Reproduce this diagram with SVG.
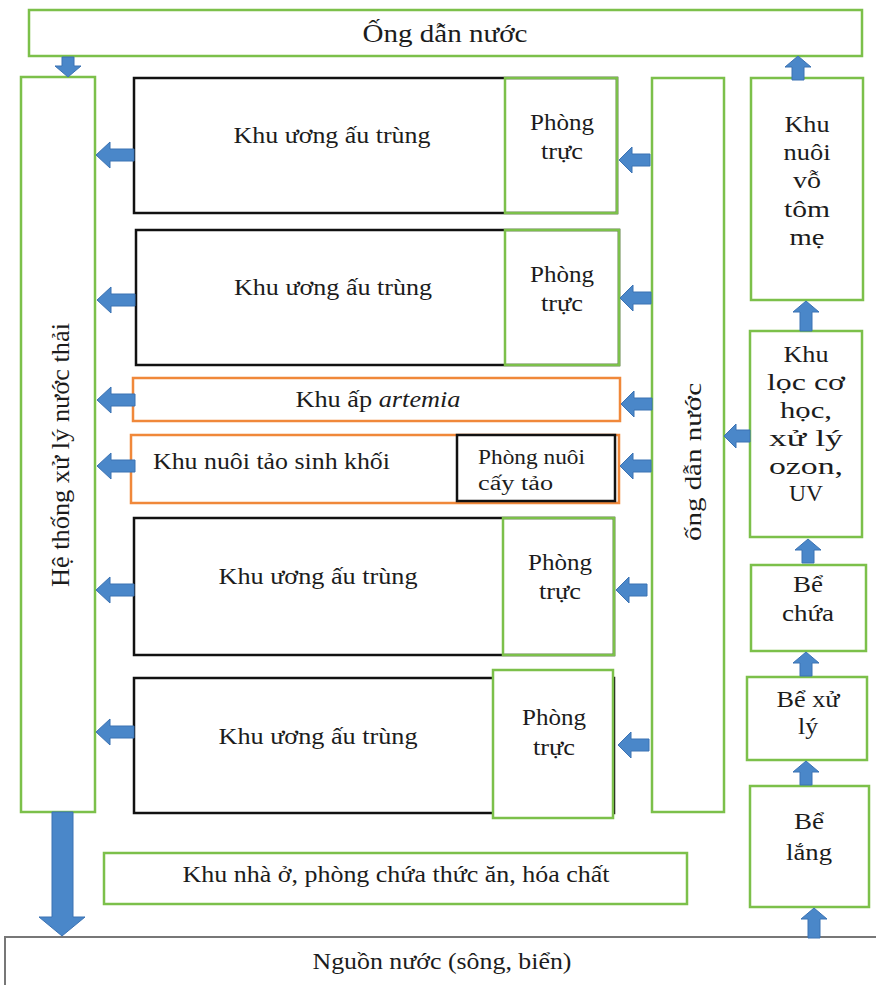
<svg xmlns="http://www.w3.org/2000/svg" width="876" height="985" viewBox="0 0 876 985">
<style>
text{font-family:"Liberation Serif","Times New Roman",serif;fill:#1c1c1c;font-size:23px}
.c{text-anchor:middle}
.g{fill:#fff;stroke:#7cc04a;stroke-width:2.5}
.k{fill:#fff;stroke:#111;stroke-width:2.5}
.o{fill:#fff;stroke:#f0883a;stroke-width:2.5}
.gy{fill:#fff;stroke:#777;stroke-width:2}
.gi{fill:none;stroke:#7cc04a;stroke-width:2.5}
.a{fill:#4a87c9;stroke:#3b72b3;stroke-width:1}
</style>
<defs>
<path id="aL38" d="M0,0 L14,-13 L14,-6 L38,-6 L38,6 L14,6 L14,13 Z"/>
<path id="aL31" d="M0,0 L13,-13 L13,-6 L31,-6 L31,6 L13,6 L13,13 Z"/>
<path id="aL26" d="M0,0 L12,-12 L12,-6 L26,-6 L26,6 L12,6 L12,12 Z"/>
<path id="aU" d="M0,0 L13,11 L6,11 L6,24 L-6,24 L-6,11 L-13,11 Z"/>
<path id="aU30" d="M0,0 L13,11 L6,11 L6,30 L-6,30 L-6,11 L-13,11 Z"/>
<path id="aD" d="M0,0 L-13,-11 L-6,-11 L-6,-20 L6,-20 L6,-11 L13,-11 Z"/>
</defs>

<g id="top-pipe"><rect class="g" x="29" y="10" width="833" height="46"/><text class="c" x="445" y="42" textLength="165" lengthAdjust="spacingAndGlyphs" style="font-size:25px">Ống dẫn nước</text></g>

<g id="waste-system"><rect class="g" x="21" y="77" width="74" height="735"/><text class="c" transform="translate(69,455) rotate(-90)" textLength="264" lengthAdjust="spacingAndGlyphs" style="font-size:25px">Hệ thống xử lý nước thải</text></g>

<g id="row1"><rect class="k" x="134" y="78" width="483" height="135"/><rect class="gi" x="505" y="78" width="112" height="135"/><text class="c" x="332" y="143" textLength="197" lengthAdjust="spacingAndGlyphs">Khu ương ấu trùng</text><text class="c" x="562" y="130" textLength="64" lengthAdjust="spacingAndGlyphs">Phòng</text><text class="c" x="562" y="159" textLength="42" lengthAdjust="spacingAndGlyphs">trực</text></g>

<g id="row2"><rect class="k" x="136" y="230" width="483" height="135"/><rect class="gi" x="505" y="230" width="114" height="135"/><text class="c" x="333" y="295" textLength="198" lengthAdjust="spacingAndGlyphs">Khu ương ấu trùng</text><text class="c" x="562" y="282" textLength="64" lengthAdjust="spacingAndGlyphs">Phòng</text><text class="c" x="562" y="311" textLength="42" lengthAdjust="spacingAndGlyphs">trực</text></g>

<g id="artemia"><rect class="o" x="133" y="378" width="487" height="43"/><text class="c" x="378" y="407" textLength="165" lengthAdjust="spacingAndGlyphs">Khu ấp <tspan font-style="italic">artemia</tspan></text></g>

<g id="algae"><rect class="o" x="131" y="435" width="488" height="68"/><rect class="k" x="457" y="435" width="158" height="66"/><text x="153" y="469" textLength="237" lengthAdjust="spacingAndGlyphs">Khu nuôi tảo sinh khối</text><text x="478" y="464" textLength="107" lengthAdjust="spacingAndGlyphs" style="font-size:20px">Phòng nuôi</text><text x="478" y="490" textLength="75" lengthAdjust="spacingAndGlyphs" style="font-size:20px">cấy tảo</text></g>

<g id="row5"><rect class="k" x="134" y="518" width="480" height="137"/><rect class="gi" x="503" y="518" width="111" height="137"/><text class="c" x="318" y="584" textLength="199" lengthAdjust="spacingAndGlyphs">Khu ương ấu trùng</text><text class="c" x="560" y="570" textLength="64" lengthAdjust="spacingAndGlyphs">Phòng</text><text class="c" x="560" y="599" textLength="42" lengthAdjust="spacingAndGlyphs">trực</text></g>

<g id="row6"><rect class="k" x="134" y="678" width="480" height="135"/><rect class="g" x="493" y="670" width="120" height="148"/><text class="c" x="318" y="744" textLength="199" lengthAdjust="spacingAndGlyphs">Khu ương ấu trùng</text><text class="c" x="554" y="725" textLength="64" lengthAdjust="spacingAndGlyphs">Phòng</text><text class="c" x="554" y="755" textLength="42" lengthAdjust="spacingAndGlyphs">trực</text></g>

<g id="pipe-right"><rect class="g" x="652" y="78" width="72" height="734"/><text class="c" transform="translate(701,462) rotate(-90)" textLength="158" lengthAdjust="spacingAndGlyphs" style="font-size:24px">ống dẫn nước</text></g>

<g id="broodstock"><rect class="g" x="751" y="78" width="112" height="222"/><text class="c" x="807" y="132" textLength="45" lengthAdjust="spacingAndGlyphs">Khu</text><text class="c" x="807" y="160" textLength="47" lengthAdjust="spacingAndGlyphs">nuôi</text><text class="c" x="807" y="188" textLength="28" lengthAdjust="spacingAndGlyphs">vỗ</text><text class="c" x="807" y="217" textLength="46" lengthAdjust="spacingAndGlyphs">tôm</text><text class="c" x="807" y="245" textLength="35" lengthAdjust="spacingAndGlyphs">mẹ</text></g>

<g id="filter"><rect class="g" x="750" y="331" width="112" height="206"/><text class="c" x="806" y="362" textLength="45" lengthAdjust="spacingAndGlyphs">Khu</text><text class="c" x="806" y="390" textLength="78" lengthAdjust="spacingAndGlyphs">lọc cơ</text><text class="c" x="806" y="418" textLength="52" lengthAdjust="spacingAndGlyphs">học,</text><text class="c" x="806" y="446" textLength="74" lengthAdjust="spacingAndGlyphs">xử lý</text><text class="c" x="806" y="474" textLength="74" lengthAdjust="spacingAndGlyphs">ozon,</text><text class="c" x="806" y="501" textLength="34" lengthAdjust="spacingAndGlyphs">UV</text></g>

<g id="storage"><rect class="g" x="751" y="565" width="115" height="86"/><text class="c" x="808" y="592" textLength="30" lengthAdjust="spacingAndGlyphs">Bể</text><text class="c" x="808" y="621" textLength="52" lengthAdjust="spacingAndGlyphs">chứa</text></g>

<g id="treatment"><rect class="g" x="747" y="677" width="120" height="83"/><text class="c" x="808" y="707" textLength="63" lengthAdjust="spacingAndGlyphs">Bể xử</text><text class="c" x="808" y="734" textLength="20" lengthAdjust="spacingAndGlyphs">lý</text></g>

<g id="settling"><rect class="g" x="750" y="786" width="119" height="121"/><text class="c" x="809" y="829" textLength="30" lengthAdjust="spacingAndGlyphs">Bể</text><text class="c" x="809" y="860" textLength="46" lengthAdjust="spacingAndGlyphs">lắng</text></g>

<g id="housing"><rect class="g" x="104" y="853" width="583" height="51"/><text class="c" x="396" y="882" textLength="427" lengthAdjust="spacingAndGlyphs">Khu nhà ở, phòng chứa thức ăn, hóa chất</text></g>

<g id="source"><rect class="gy" x="5" y="937" width="880" height="60"/><text class="c" x="442" y="969" textLength="259" lengthAdjust="spacingAndGlyphs">Nguồn nước (sông, biển)</text></g>

<g id="connectors">
<use href="#aD" class="a" x="68" y="77"/>
<use href="#aL38" class="a" x="96" y="155"/>
<use href="#aL38" class="a" x="97" y="300"/>
<use href="#aL38" class="a" x="97" y="400"/>
<use href="#aL38" class="a" x="97" y="466"/>
<use href="#aL38" class="a" x="96" y="590"/>
<use href="#aL38" class="a" x="96" y="732"/>
<use href="#aL31" class="a" x="619" y="160"/>
<use href="#aL31" class="a" x="620" y="298"/>
<use href="#aL31" class="a" x="621" y="404"/>
<use href="#aL31" class="a" x="620" y="466"/>
<use href="#aL31" class="a" x="616" y="590"/>
<use href="#aL31" class="a" x="618" y="745"/>
<use href="#aL26" class="a" x="724" y="436"/>
<use href="#aU" class="a" x="798" y="56"/>
<use href="#aU30" class="a" x="806" y="301"/>
<use href="#aU" class="a" x="808" y="539"/>
<use href="#aU" class="a" x="806" y="652"/>
<use href="#aU" class="a" x="806" y="761"/>
<use href="#aU30" class="a" x="814" y="908"/>
<path class="a" d="M52,812 L73,812 L73,917 L85,917 L62,936 L39,917 L52,917 Z"/>
</g>
</svg>
